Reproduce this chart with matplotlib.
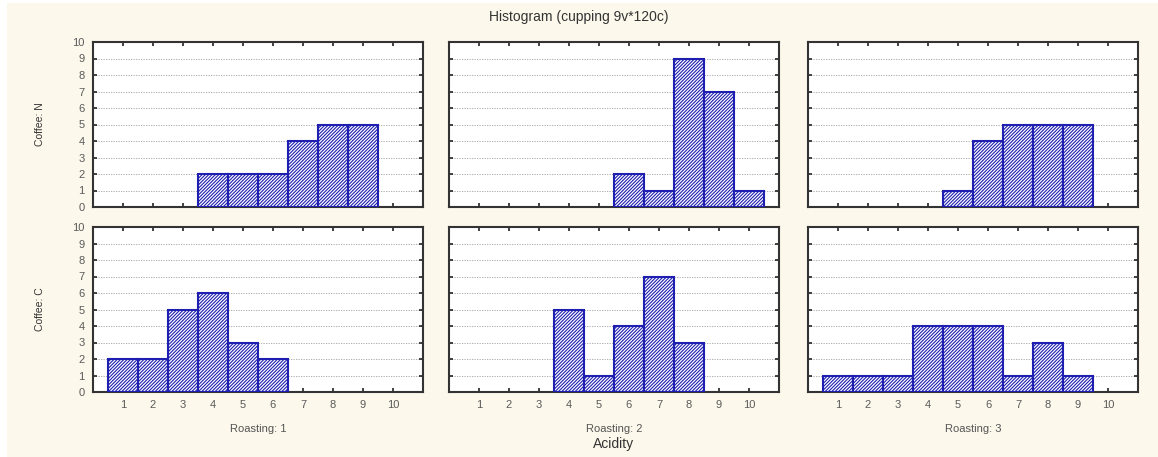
import numpy as np
import matplotlib
matplotlib.use('Agg')
import matplotlib.pyplot as plt
from matplotlib import rcParams

rcParams['font.family'] = ['Liberation Sans', 'DejaVu Sans']
rcParams['hatch.linewidth'] = 0.8

# acidity scores and counts per panel
scores = list(range(1, 11))
roastings = ['Roasting: 1', 'Roasting: 2', 'Roasting: 3']
coffees = ['Coffee: N', 'Coffee: C']

counts_n_r1 = [0, 0, 0, 2, 2, 2, 4, 5, 5, 0]
counts_n_r2 = [0, 0, 0, 0, 0, 2, 1, 9, 7, 1]
counts_n_r3 = [0, 0, 0, 0, 1, 4, 5, 5, 5, 0]
counts_c_r1 = [2, 2, 5, 6, 3, 2, 0, 0, 0, 0]
counts_c_r2 = [0, 0, 0, 5, 1, 4, 7, 3, 0, 0]
counts_c_r3 = [1, 1, 1, 4, 4, 4, 1, 3, 1, 0]

counts = [[counts_n_r1, counts_n_r2, counts_n_r3],
          [counts_c_r1, counts_c_r2, counts_c_r3]]

W, H = 1158, 457
BG = '#fdf8ec'
BLUE = '#1e1eb0'

fig = plt.figure(figsize=(W / 100, H / 100), dpi=100)
fig.patch.set_facecolor('white')
# cream page area (thin white strip on top and left)
fig.patches.append(plt.Rectangle((7 / W, 0), 1, 1 - 3 / H, transform=fig.transFigure,
                                  facecolor=BG, edgecolor='none', zorder=-10))

col_left = [93, 449, 808]
col_width = 330
row_top = [42, 227]
row_height = 165

for r in range(2):
    for c in range(3):
        left = col_left[c] / W
        bottom = 1 - (row_top[r] + row_height) / H
        ax = fig.add_axes([left, bottom, col_width / W, row_height / H])
        ax.set_facecolor('white')

        vals = counts[r][c]
        xs = [s for s, v in zip(scores, vals) if v > 0]
        hs = [v for v in vals if v > 0]
        ax.bar(xs, hs, width=1.0, facecolor='white', edgecolor=BLUE,
               linewidth=1.5, hatch='/' * 10, zorder=3)

        ax.set_xlim(0, 11)
        ax.set_ylim(0, 10)
        ax.set_xticks(scores)
        ax.set_yticks(range(0, 11))
        ax.yaxis.grid(True, linestyle=(0, (1.5, 1.5)), color='#a0a0a0', linewidth=0.6, zorder=0)
        ax.set_axisbelow(True)

        ax.tick_params(direction='in', length=3, width=1.2, color='#222222',
                       top=True, right=True, labelsize=8, labelcolor='#5a5a5a', pad=6)
        for sp in ax.spines.values():
            sp.set_linewidth(1.5)
            sp.set_color('#333333')

        if r == 0:
            ax.tick_params(labelbottom=False)
        else:
            ax.set_xlabel(roastings[c], fontsize=8, color='#555555', labelpad=10)
        if c != 0:
            ax.tick_params(labelleft=False)
        else:
            ax.set_ylabel(coffees[r], fontsize=7.5, color='#333333', labelpad=20,
                          family=['Liberation Sans Narrow', 'Liberation Sans', 'DejaVu Sans'])

fig.text(0.5, 1 - 17 / H, 'Histogram (cupping 9v*120c)', ha='center', va='center',
         fontsize=10, color='#333333')
fig.text(col_left[1] / W + col_width / (2 * W), 1 - 444 / H, 'Acidity', ha='center',
         va='center', fontsize=10, color='#333333')

fig.savefig('out.png', dpi=100, facecolor=fig.get_facecolor())
